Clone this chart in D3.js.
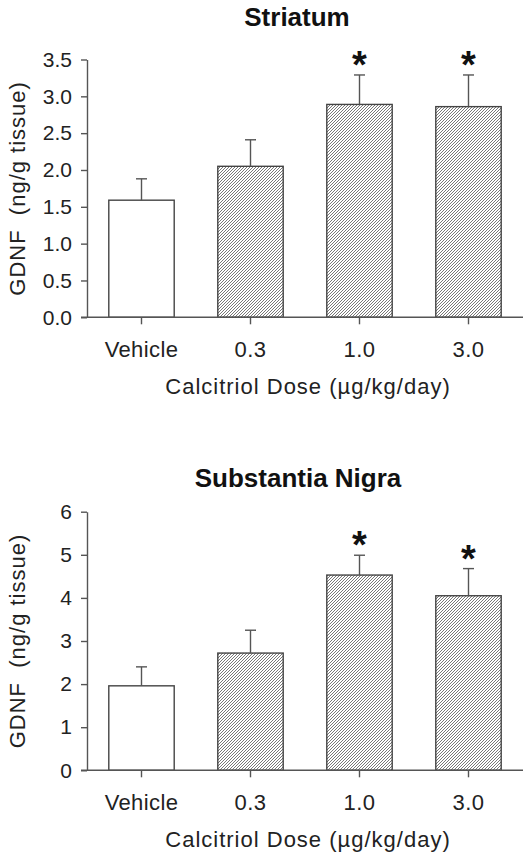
<!DOCTYPE html>
<html>
<head>
<meta charset="utf-8">
<script src="https://cdn.jsdelivr.net/npm/d3@7/dist/d3.min.js"></script>
<style>
  html, body { margin: 0; padding: 0; background: #fff; }
  svg { display: block; }
  text { font-family: "Liberation Sans", Arial, Helvetica, sans-serif; }
</style>
</head>
<body>
<div id="chart"></div>
<script>
// ---- Data ----
const categories = ["Vehicle", "0.3", "1.0", "3.0"];
const striatumMean = [1.59, 2.05, 2.89, 2.86];
const striatumErr  = [0.29, 0.36, 0.40, 0.43];
const nigraMean    = [1.96, 2.72, 4.53, 4.05];
const nigraErr     = [0.44, 0.53, 0.46, 0.63];
const significant  = [false, false, true, true];
const hatched      = [false, true, true, true];
const striatumTicks = [0, 0.5, 1.0, 1.5, 2.0, 2.5, 3.0, 3.5];
const nigraTicks    = [0, 1, 2, 3, 4, 5, 6];
const panelTitles = ["Striatum", "Substantia Nigra"];
const xTitle = "Calcitriol Dose (\u00B5g/kg/day)";
const yTitle = "GDNF  (ng/g tissue)";

const W = 531, H = 857;
const svg = d3.select("#chart").append("svg").attr("width", W).attr("height", H);

// hatch pattern
const defs = svg.append("defs");
const pat = defs.append("pattern")
  .attr("id", "hatch").attr("patternUnits", "userSpaceOnUse")
  .attr("width", 3).attr("height", 3);
pat.append("rect").attr("width", 3).attr("height", 3).attr("fill", "#fff");
pat.append("path")
  .attr("d", "M-1,1 l2,-2 M0,3 l3,-3 M2,4 l2,-2")
  .attr("stroke", "#555").attr("stroke-width", 0.8);

const axisColor = "#555";

const panels = [
  { title: panelTitles[0], mean: striatumMean, err: striatumErr, ticks: striatumTicks, fmt: d3.format(".1f"),
    top: 59.5, bottom: 317.3, titleY: 26, titleX: 297 },
  { title: panelTitles[1], mean: nigraMean, err: nigraErr, ticks: nigraTicks, fmt: d3.format("d"),
    top: 511.7, bottom: 770.3, titleY: 487, titleX: 298 }
];

const xLeft = 87, xRight = 523;

panels.forEach(p => {
  const g = svg.append("g");
  const x = d3.scaleBand().domain(categories).range([xLeft, xRight]).paddingInner(0.4).paddingOuter(0.2);
  const y = d3.scaleLinear().domain([0, d3.max(p.ticks)]).range([p.bottom, p.top]);

  // bars
  const data = categories.map((c, i) => ({ c, m: p.mean[i], e: p.err[i], s: significant[i], h: hatched[i] }));
  g.selectAll("rect.bar").data(data).join("rect")
    .attr("class", "bar")
    .attr("x", d => x(d.c))
    .attr("width", x.bandwidth())
    .attr("y", d => y(d.m))
    .attr("height", d => y(0) - y(d.m))
    .attr("fill", d => d.h ? "url(#hatch)" : "#fff")
    .attr("stroke", "#444").attr("stroke-width", 1.4);

  // error bars (upper only)
  const capHalf = 5.5;
  g.selectAll("line.err").data(data).join("line")
    .attr("class", "err")
    .attr("x1", d => x(d.c) + x.bandwidth() / 2)
    .attr("x2", d => x(d.c) + x.bandwidth() / 2)
    .attr("y1", d => y(d.m)).attr("y2", d => y(d.m + d.e))
    .attr("stroke", "#555").attr("stroke-width", 1.4);
  g.selectAll("line.cap").data(data).join("line")
    .attr("class", "cap")
    .attr("x1", d => x(d.c) + x.bandwidth() / 2 - capHalf)
    .attr("x2", d => x(d.c) + x.bandwidth() / 2 + capHalf)
    .attr("y1", d => y(d.m + d.e)).attr("y2", d => y(d.m + d.e))
    .attr("stroke", "#555").attr("stroke-width", 1.4);

  // significance asterisks
  g.selectAll("text.sig").data(data.filter(d => d.s)).join("text")
    .attr("class", "sig")
    .attr("x", d => x(d.c) + x.bandwidth() / 2)
    .attr("y", d => y(d.m + d.e) + 3)
    .attr("text-anchor", "middle")
    .attr("font-size", 38).attr("font-weight", "bold").attr("fill", "#111")
    .text("*");

  // y axis
  const yAxis = d3.axisLeft(y).tickValues(p.ticks).tickFormat(p.fmt).tickSize(6).tickSizeOuter(0).tickPadding(9);
  const ya = g.append("g").attr("transform", `translate(${xLeft},0)`).call(yAxis);
  ya.selectAll("path, line").attr("stroke", axisColor).attr("stroke-width", 1.4);
  ya.selectAll("text").attr("font-size", 21).attr("fill", "#222")
    .style("font-family", '"Liberation Sans", Arial, sans-serif');

  // x axis
  const xAxis = d3.axisBottom(x).tickSize(7).tickSizeOuter(0).tickPadding(17);
  const xa = g.append("g").attr("transform", `translate(0,${p.bottom})`).call(xAxis);
  xa.select(".domain").attr("d", `M${xLeft - 6},0H${xRight}`);
  xa.selectAll("path, line").attr("stroke", axisColor).attr("stroke-width", 1.4);
  xa.selectAll("text").attr("font-size", 22).attr("fill", "#222").attr("letter-spacing", 0.4)
    .style("font-family", '"Liberation Sans", Arial, sans-serif');

  // titles
  g.append("text").attr("x", p.titleX).attr("y", p.titleY).attr("text-anchor", "middle")
    .attr("font-size", 26).attr("font-weight", "bold").attr("fill", "#111").text(p.title);

  g.append("text").attr("x", 308).attr("y", p.bottom + 77).attr("text-anchor", "middle")
    .attr("font-size", 22).attr("letter-spacing", 1).attr("fill", "#222").text(xTitle);

  g.append("text")
    .attr("transform", `translate(25,${(p.top + p.bottom) / 2}) rotate(-90)`)
    .attr("text-anchor", "middle")
    .style("white-space", "pre")
    .attr("font-size", 22).attr("letter-spacing", 1).attr("fill", "#222").text(yTitle);
});
</script>
</body>
</html>
